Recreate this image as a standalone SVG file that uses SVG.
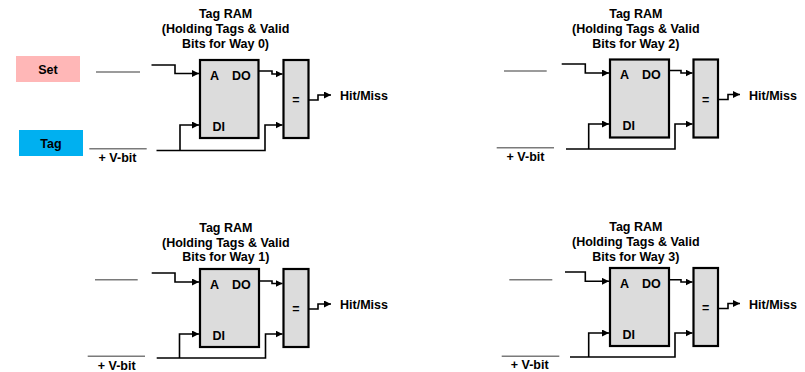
<svg xmlns="http://www.w3.org/2000/svg" width="805" height="372" viewBox="0 0 805 372">
<defs>
<style>
text{font-family:"Liberation Sans",Arial,Helvetica,sans-serif;font-weight:bold;font-size:12.5px;fill:#000}
.t{text-anchor:middle}
.ram{fill:#dcdcdc;stroke:#000;stroke-width:2.2}
.wire{fill:none;stroke:#000;stroke-width:1.6}
.arr{marker-end:url(#ah)}
.gl{stroke:#7a7a7a;stroke-width:1.4}
</style>
<marker id="ah" markerUnits="userSpaceOnUse" markerWidth="8" markerHeight="8" refX="7" refY="3.5" orient="auto">
<path d="M0,0 L7,3.5 L0,7 z" fill="#000"/>
</marker>
</defs>
<rect width="805" height="372" fill="#fff"/>

<g id="set-label">
<rect x="16" y="56" width="64" height="26" fill="#ffb7b7"/>
<text class="t" x="48" y="73.5">Set</text>
</g>
<g id="tag-label">
<rect x="19" y="130" width="64" height="26" fill="#00b0f0"/>
<text class="t" x="51" y="147.5">Tag</text>
</g>

<g id="way0">
<text class="t" x="225.5" y="18">Tag RAM</text>
<text class="t" x="225.5" y="33">(Holding Tags &amp; Valid</text>
<text class="t" x="225.5" y="48">Bits for Way 0)</text>
<rect class="ram" x="200" y="60" width="58.5" height="78"/>
<text x="210" y="79.5">A</text><text x="232" y="79.5">DO</text>
<text x="212.5" y="130.5">DI</text>
<rect class="ram" x="283.5" y="60" width="25" height="78"/>
<text class="t" x="296" y="104">=</text>
<text x="340" y="100">Hit/Miss</text>
<line class="gl" x1="96" y1="72" x2="140" y2="72"/>
<line class="gl" x1="89.3" y1="148.7" x2="146.7" y2="148.7"/>
<text class="t" x="117.5" y="161.5">+ V-bit</text>
</g>

<g id="way1">
<text class="t" x="225.8" y="231.5">Tag RAM</text>
<text class="t" x="225.8" y="246.5">(Holding Tags &amp; Valid</text>
<text class="t" x="225.8" y="261">Bits for Way 1)</text>
<rect class="ram" x="200" y="269" width="59" height="78"/>
<text x="210" y="288.5">A</text><text x="232" y="288.5">DO</text>
<text x="212.5" y="339.5">DI</text>
<rect class="ram" x="283.5" y="269" width="25" height="78"/>
<text class="t" x="296" y="313">=</text>
<text x="340" y="309">Hit/Miss</text>
<line class="gl" x1="95" y1="279.7" x2="137.7" y2="279.7"/>
<line class="gl" x1="87.7" y1="356.3" x2="145" y2="356.3"/>
<text class="t" x="116.7" y="369.5">+ V-bit</text>
</g>

<g id="way2">
<text class="t" x="635.8" y="18">Tag RAM</text>
<text class="t" x="635.8" y="33">(Holding Tags &amp; Valid</text>
<text class="t" x="635.8" y="48">Bits for Way 2)</text>
<rect class="ram" x="610" y="59.5" width="59" height="78"/>
<text x="620" y="79">A</text><text x="642" y="79">DO</text>
<text x="622.5" y="130">DI</text>
<rect class="ram" x="693.5" y="59.5" width="24.5" height="78"/>
<text class="t" x="705.7" y="103.5">=</text>
<text x="749" y="99.5">Hit/Miss</text>
<line class="gl" x1="504" y1="71" x2="546.7" y2="71"/>
<line class="gl" x1="496.7" y1="147.7" x2="554" y2="147.7"/>
<text class="t" x="525.5" y="160.5">+ V-bit</text>
</g>

<g id="way3">
<text class="t" x="635.8" y="231">Tag RAM</text>
<text class="t" x="635.8" y="246">(Holding Tags &amp; Valid</text>
<text class="t" x="635.8" y="260.5">Bits for Way 3)</text>
<rect class="ram" x="610" y="268" width="59" height="78"/>
<text x="620" y="287.5">A</text><text x="642" y="287.5">DO</text>
<text x="622.5" y="338.5">DI</text>
<rect class="ram" x="693.5" y="268" width="24.5" height="78"/>
<text class="t" x="705.7" y="312">=</text>
<text x="749" y="308.5">Hit/Miss</text>
<line class="gl" x1="509.3" y1="279.7" x2="552.3" y2="279.7"/>
<line class="gl" x1="501.7" y1="356.3" x2="559.3" y2="356.3"/>
<text class="t" x="529.7" y="368.7">+ V-bit</text>
</g>

<g id="connectors">
<path class="wire arr" d="M151.5,65 H175 V73.5 H199"/>
<path class="wire arr" d="M258.5,71 H272 V74 H282.5"/>
<path class="wire arr" d="M308.5,100 H318 V95 H331"/>
<path class="wire arr" d="M156.5,150.5 H265 V125 H282.5"/>
<path class="wire arr" d="M180,150.5 V125 H199"/>

<path class="wire arr" d="M151.7,273 H175 V282 H199"/>
<path class="wire arr" d="M259,281 H272 V283.5 H282.5"/>
<path class="wire arr" d="M308.5,309 H318 V304 H331"/>
<path class="wire arr" d="M156.7,358 H265.5 V334 H282.5"/>
<path class="wire arr" d="M179.5,358 V334 H199"/>

<path class="wire arr" d="M561.7,64 H585.3 V73 H609"/>
<path class="wire arr" d="M669,70.5 H681 V73 H692.5"/>
<path class="wire arr" d="M718,99.5 H728 V94.5 H740"/>
<path class="wire arr" d="M566,149 H675 V124 H692.5"/>
<path class="wire arr" d="M588.7,149 V124 H609"/>

<path class="wire arr" d="M565,272 H585.3 V281.3 H609"/>
<path class="wire arr" d="M669,279.7 H681 V282 H692.5"/>
<path class="wire arr" d="M718,308.5 H728 V303.5 H740"/>
<path class="wire arr" d="M570,357 H675 V333 H692.5"/>
<path class="wire arr" d="M588.7,357 V333 H609"/>
</g>
</svg>
